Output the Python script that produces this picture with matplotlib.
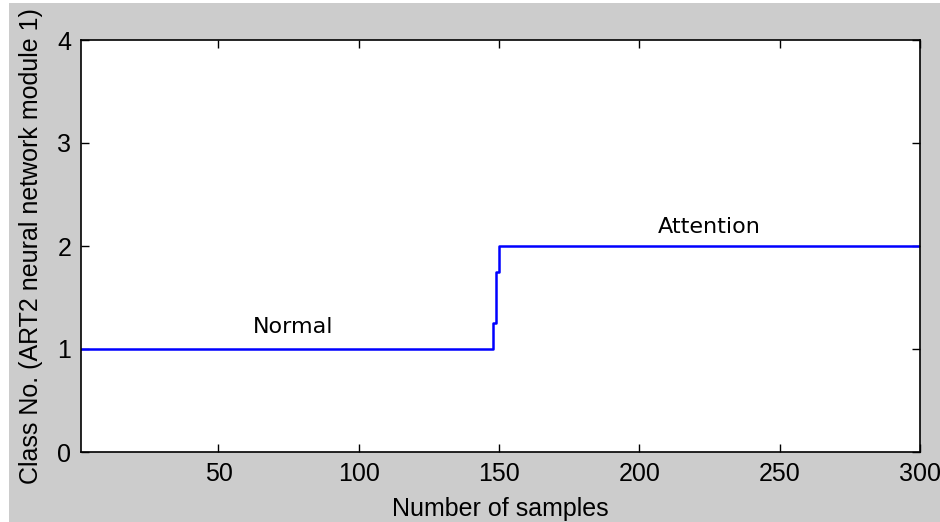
import numpy as np
import matplotlib
matplotlib.use("Agg")
import matplotlib.pyplot as plt
from matplotlib.patches import Rectangle

# Data: class assignment per sample (segments: start sample, value)
seg_starts = [1, 148, 149, 150]
seg_values = [1.0, 1.25, 1.75, 2.0]
n_samples = 300

samples = np.arange(1, n_samples + 1)
classes = np.empty(n_samples)
bounds = seg_starts + [n_samples + 1]
for s, e, v in zip(bounds[:-1], bounds[1:], seg_values):
    classes[(samples >= s) & (samples < e)] = v

xticks = [50, 100, 150, 200, 250, 300]
yticks = [0, 1, 2, 3, 4]

plt.rcParams['font.family'] = ['Liberation Sans', 'DejaVu Sans']

W, H = 940, 522
fig = plt.figure(figsize=(9.4, 5.22), dpi=100, facecolor="white")
fig.patches.append(Rectangle((9 / W, 0), 1 - 9 / W, 1 - 3 / H, transform=fig.transFigure,
                             facecolor="#cccccc", edgecolor="none", zorder=-10))

ax = fig.add_axes([81 / W, 1 - 452 / H, (920 - 81) / W, (452 - 40) / H])
ax.plot(samples, classes, color="#0000ff", lw=1.8, drawstyle="steps-post")
ax.set_xlim(1, 300)
ax.set_ylim(0, 4)
ax.set_xticks(xticks)
ax.set_yticks(yticks)
ax.tick_params(direction="in", top=True, right=True, labelsize=18, length=6, width=1, pad=7)
for sp in ax.spines.values():
    sp.set_linewidth(1.2)
ax.set_xlabel("Number of samples", fontsize=18, labelpad=8)
ax.set_ylabel("Class No. (ART2 neural network module 1)", fontsize=18, labelpad=10)
ax.text(76.5, 1.12, "Normal", fontsize=16, ha="center", va="bottom", family="DejaVu Sans")
ax.text(225, 2.09, "Attention", fontsize=16, ha="center", va="bottom", family="DejaVu Sans")

fig.savefig("out.png", dpi=100, facecolor=fig.get_facecolor())
